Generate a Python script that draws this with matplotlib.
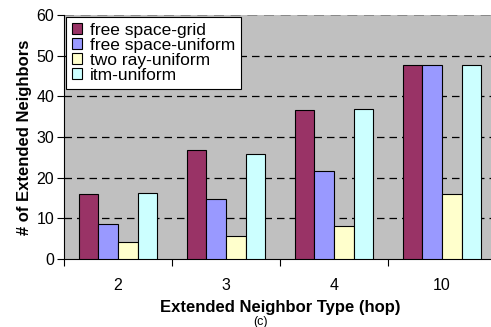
import matplotlib.pyplot as plt
import numpy as np

plt.rcParams['font.family'] = ['Liberation Sans', 'DejaVu Sans']

categories = ['2', '3', '4', '10']
series_names = ['free space-grid', 'free space-uniform', 'two ray-uniform', 'itm-uniform']
free_grid = [16.0, 26.9, 36.6, 47.8]
free_uniform = [8.6, 14.8, 21.7, 47.8]
two_ray = [4.2, 5.6, 8.1, 16.0]
itm_uniform = [16.3, 25.7, 36.9, 47.8]
colors = ['#993366', '#9999FF', '#FFFFCC', '#CCFFFF']

fig = plt.figure(figsize=(4.91, 3.27), dpi=100)
ax = fig.add_axes([64 / 491, 68 / 327, 432 / 491, 244 / 327])
ax.set_facecolor('#C0C0C0')

x = np.arange(len(categories))
w = 0.182
for i, (vals, name) in enumerate(zip([free_grid, free_uniform, two_ray, itm_uniform], series_names)):
    ax.bar(x + (i - 1.5) * w, vals, w, color=colors[i], edgecolor='black',
           linewidth=0.8, label=name, zorder=3)

ax.set_xlim(-0.5, len(categories) - 0.5)
ax.set_ylim(0, 60)
ax.set_yticks(range(0, 61, 10))
for y in range(10, 51, 10):
    ax.axhline(y, color='black', linestyle=(0, (6, 4)), linewidth=0.9, zorder=1)
ax.axhline(60, color='#808080', linestyle=(0, (6, 4)), linewidth=1.2, zorder=1)

ax.set_xticks(x)
ax.set_xticklabels(categories)
ax.set_xticks(np.arange(len(categories) + 1) - 0.5, minor=True)
ax.tick_params(axis='x', which='major', length=0, pad=14, labelsize=11.5)
ax.tick_params(axis='x', which='minor', length=5, direction='out', width=0.8)
ax.tick_params(axis='y', length=5, direction='out', width=0.8, labelsize=11.5, pad=2)

for s in ['top', 'right']:
    ax.spines[s].set_visible(False)
ax.spines['left'].set_linewidth(0.8)
ax.spines['bottom'].set_linewidth(0.8)

ax.set_ylabel('# of Extended Neighbors', fontsize=12, fontweight='bold', labelpad=3)
ax.set_xlabel('Extended Neighbor Type (hop)', fontsize=12, fontweight='bold', labelpad=5)
fig.text(260 / 491, 1 - 322 / 327, '(c)', ha='center', va='center', fontsize=9)

leg = ax.legend(loc='upper left', bbox_to_anchor=(0.0, 1.0), fontsize=12.5, frameon=True,
                fancybox=False, borderaxespad=0.1, handlelength=0.6, handleheight=0.6,
                handletextpad=0.45, labelspacing=0.0, borderpad=0.35)
leg.get_frame().set_edgecolor('black')
leg.get_frame().set_facecolor('white')
leg.get_frame().set_linewidth(0.8)
leg.get_frame().set_alpha(1)

fig.savefig('out.png', dpi=100)
